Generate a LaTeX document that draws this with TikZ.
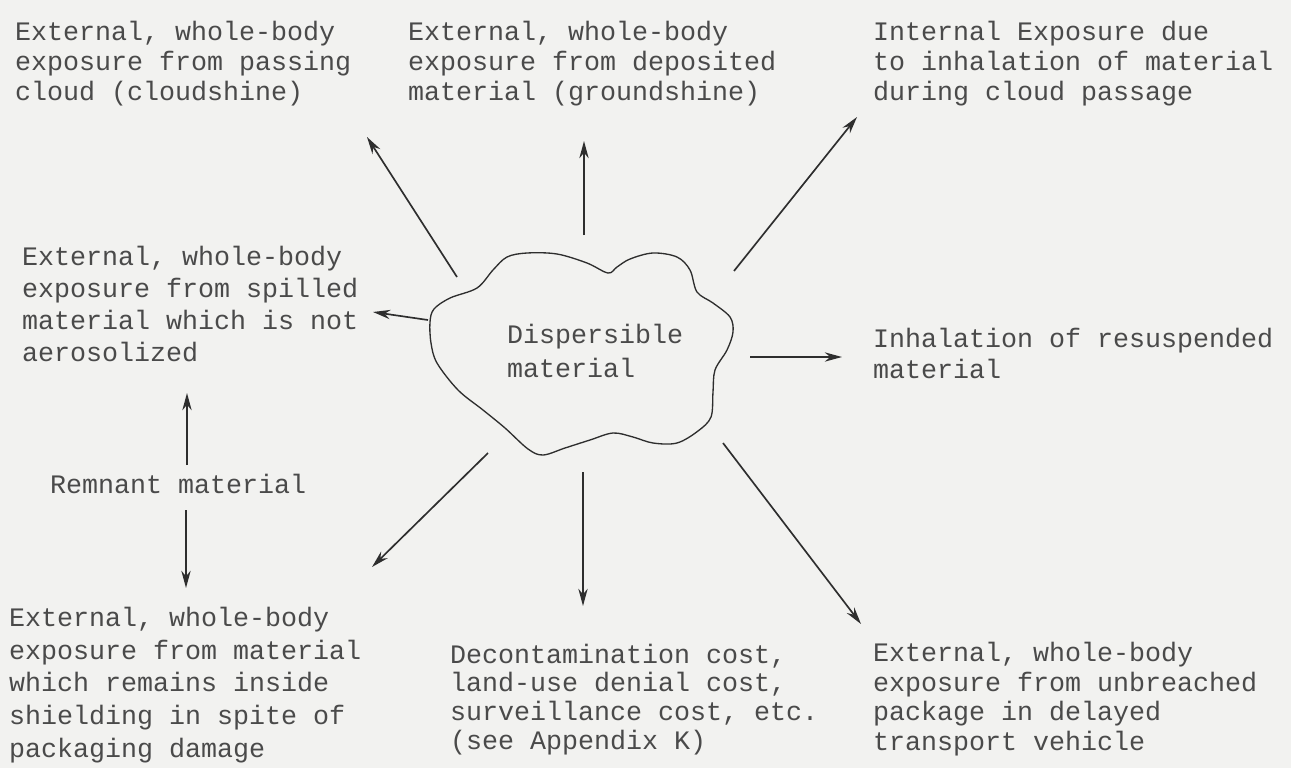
\documentclass[tikz,border=0pt]{standalone}
\usepackage{fontspec}
\newfontfamily\tw{Liberation Mono}
\usetikzlibrary{arrows.meta}
\definecolor{bg}{HTML}{F2F2F0}
\definecolor{ink}{HTML}{4A4A4A}
\definecolor{lineink}{HTML}{2E2E2E}
\begin{document}
\begin{tikzpicture}[x=0.75pt,y=-0.75pt,
  lbl/.style={anchor=base west, inner sep=0pt, outer sep=0pt, align=left, text=ink,
              font=\tw\fontsize{20pt}{#1}\selectfont},
  lbl/.default=23pt,
  arr/.style={draw=lineink, line width=1.25pt, -{Stealth[length=13pt,width=7pt]}},
  cloudline/.style={draw=lineink, line width=1pt}]
\useasboundingbox[fill=bg] (0,0) rectangle (1291,768);

% cloud outline
\draw[cloudline] plot[smooth cycle, tension=0.55] coordinates {
  (430,322) (434,309) (450,298) (477,288) (493,270) (507,257) (527,253)
  (557,254) (587,263) (608,273) (617,267) (630,259) (653,253) (677,257)
  (690,270) (697,292) (713,303) (730,317) (733,332) (727,350) (715,370)
  (713,392) (711,417) (698,431) (677,443) (653,443) (633,437) (613,433)
  (590,440) (565,448) (543,455) (528,449) (505,428) (483,410) (458,390)
  (437,363) (431,343)};
% (base anchor of a multi-line node = baseline of its last line)
\node[lbl=25.5pt] (cloud) at (507,377) {Dispersible\\material};

% text blocks
\node[lbl=22.5pt] (cloudshine) at (15,100) {External, whole-body\\exposure from passing\\cloud (cloudshine)};
\node[lbl=22.5pt] (groundshine) at (408,100) {External, whole-body\\exposure from deposited\\material (groundshine)};
\node[lbl=22.5pt] (internal) at (873,100) {Internal Exposure due\\to inhalation of material\\during cloud passage};
\node[lbl=24pt] (spilled) at (22,361) {External, whole-body\\exposure from spilled\\material which is not\\aerosolized};
\node[lbl=23.25pt] (resusp) at (873,378) {Inhalation of resuspended\\material};
\node[lbl] (remnant) at (50,493) {Remnant material};
\node[lbl=24.4pt] (shielding) at (9,757) {External, whole-body\\exposure from material\\which remains inside\\shielding in spite of\\packaging damage};
\node[lbl=21.5pt] (cost) at (450,749) {Decontamination cost,\\land-use denial cost,\\surveillance cost, etc.\\(see Appendix K)};
\node[lbl=22.1pt] (vehicle) at (873,750) {External, whole-body\\exposure from unbreached\\package in delayed\\transport vehicle};

% arrow end points
\coordinate (s1) at (457,277); \coordinate (t1) at (367,137);
\coordinate (s2) at (584,235); \coordinate (t2) at (584,141);
\coordinate (s3) at (734,271); \coordinate (t3) at (857,117);
\coordinate (s4) at (428,320); \coordinate (t4) at (373,312);
\coordinate (s5) at (750,357); \coordinate (t5) at (842,357);
\coordinate (s6) at (187,465); \coordinate (t6) at (187,393);
\coordinate (s7) at (186,510); \coordinate (t7) at (186,588);
\coordinate (s8) at (488,453); \coordinate (t8) at (372,567);
\coordinate (s9) at (583,472); \coordinate (t9) at (583,606);
\coordinate (s10) at (723,443); \coordinate (t10) at (861,624);

\draw[arr] (s1) -- (t1);
\draw[arr] (s2) -- (t2);
\draw[arr] (s3) -- (t3);
\draw[arr] (s4) -- (t4);
\draw[arr] (s5) -- (t5);
\draw[arr] (s6) -- (t6);
\draw[arr] (s7) -- (t7);
\draw[arr] (s8) -- (t8);
\draw[arr] (s9) -- (t9);
\draw[arr] (s10) -- (t10);
\end{tikzpicture}
\end{document}
